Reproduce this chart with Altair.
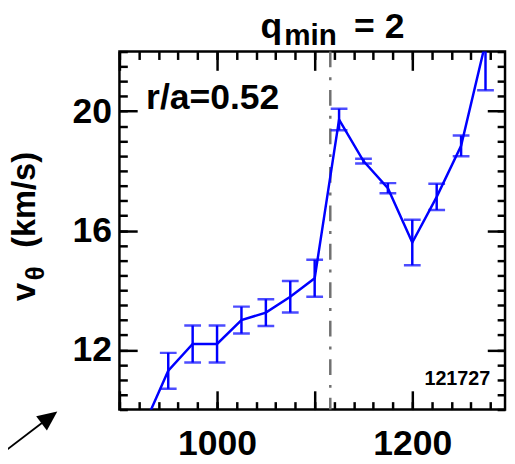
import altair as alt
import pandas as pd

# ---- data ----
x_pos = [925, 950, 975, 1000, 1025, 1050, 1075, 1100, 1125, 1150, 1175, 1200, 1225, 1250, 1275]
v_theta = [9.45, 11.3, 12.2, 12.2, 13.0, 13.25, 13.78, 14.4, 19.72, 18.33, 17.42, 15.6, 17.13, 18.84, 22.3]
v_err = [0.4, 0.6, 0.62, 0.62, 0.45, 0.45, 0.53, 0.62, 0.36, 0.08, 0.17, 0.76, 0.44, 0.35, 1.6]
q_min_x = [1116]
x_domain = [900, 1295]
y_domain = [10, 22]
x_major = [900, 1000, 1100, 1200]
x_labels = [1000, 1200]
x_minor = list(range(900, 1300, 20))
y_major = [12, 16, 20]
y_minor = [10 + 0.5 * i for i in range(25)]

df = pd.DataFrame({"x": x_pos, "v": v_theta, "err": v_err})
df["lo"] = df["v"] - df["err"]
df["hi"] = df["v"] + df["err"]
qdf = pd.DataFrame({"x": q_min_x})

W, H = 391, 363
FONT = "Liberation Sans"
BLUE = "#0000FF"

xs = alt.Scale(domain=x_domain, nice=False, zero=False)
ys = alt.Scale(domain=y_domain, nice=False, zero=False)


def ax(**kw):
    base = dict(grid=False, title=None, domain=False, tickColor="black", tickWidth=2.5)
    base.update(kw)
    return alt.Axis(**base)


def axis_layer(xaxis, yaxis):
    return alt.Chart(df).mark_point(opacity=0).encode(
        x=alt.X("x:Q", scale=xs, axis=xaxis),
        y=alt.Y("v:Q", scale=ys, axis=yaxis),
    )


lab_common = dict(labelFont=FONT, labelFontWeight="bold", labelFontSize=36, labelColor="black")

a1 = axis_layer(
    ax(orient="bottom", values=x_labels, ticks=False, tickSize=0, labelPadding=18, format="d", **lab_common),
    ax(orient="left", values=y_major, ticks=False, tickSize=0, labelPadding=8, format="d", **lab_common),
)
a2 = axis_layer(
    ax(orient="top", offset=-H, values=x_major, tickSize=19, labels=False),
    ax(orient="right", offset=-W, values=y_major, tickSize=18, labels=False),
)
a3 = axis_layer(
    ax(orient="top", offset=-H, values=x_minor, tickSize=8, labels=False),
    ax(orient="right", offset=-W, values=y_minor, tickSize=8, labels=False),
)
a4 = axis_layer(
    ax(orient="bottom", offset=-H, values=x_major, tickSize=19, labels=False),
    ax(orient="left", offset=-W, values=y_major, tickSize=18, labels=False),
)
a5 = axis_layer(
    ax(orient="bottom", offset=-H, values=x_minor, tickSize=8, labels=False),
    ax(orient="left", offset=-W, values=y_minor, tickSize=8, labels=False),
)

vline = alt.Chart(qdf).mark_rule(color="#707070", strokeWidth=2.5, strokeDash=[16, 10, 3, 10]).encode(
    x=alt.X("x:Q", scale=xs, axis=None),
    y=alt.value(0),
    y2=alt.value(H),
)

line = alt.Chart(df).mark_line(color=BLUE, strokeWidth=2.5, clip=True).encode(
    x=alt.X("x:Q", scale=xs, axis=None),
    y=alt.Y("v:Q", scale=ys, axis=None),
)
bars = alt.Chart(df).mark_rule(color=BLUE, strokeWidth=2.5, clip=True).encode(
    x=alt.X("x:Q", scale=xs, axis=None),
    y=alt.Y("lo:Q", scale=ys, axis=None),
    y2="hi:Q",
)
cap_lo = alt.Chart(df).mark_tick(color=BLUE, orient="horizontal", size=17, thickness=2.5, clip=True).encode(
    x=alt.X("x:Q", scale=xs, axis=None),
    y=alt.Y("lo:Q", scale=ys, axis=None),
)
cap_hi = alt.Chart(df).mark_tick(color=BLUE, orient="horizontal", size=17, thickness=2.5, clip=True).encode(
    x=alt.X("x:Q", scale=xs, axis=None),
    y=alt.Y("hi:Q", scale=ys, axis=None),
)


def label(text, x, y, size, align="left", angle=0, baseline="alphabetic"):
    return alt.Chart(pd.DataFrame({"t": [text]})).mark_text(
        font=FONT, fontWeight="bold", fontSize=size, color="black",
        align=align, baseline=baseline, angle=angle,
    ).encode(text="t:N", x=alt.value(x), y=alt.value(y))


texts = [
    label("q", 143, -14, 36),
    label("min", 167, -7, 30),
    label("= 2", 289, -14, 36, align="right"),
    label("r/a=0.52", 27, 58, 36),
    label("121727", 376, 338, 20, align="right"),
    label("v", -86, 253, 33, angle=270),
    label("θ", -77, 232, 26, angle=270),
    label("(km/s)", -86, 199, 33, angle=270),
]

arrow_line = alt.Chart(pd.DataFrame({"a": [0]})).mark_rule(color="black", strokeWidth=2).encode(
    x=alt.value(-121), y=alt.value(409), x2=alt.value(-66), y2=alt.value(367)
)
arrow_head = alt.Chart(pd.DataFrame({"a": [0]})).mark_point(
    shape="M0,0 L0.45,1 L-0.45,1 Z", filled=True, color="black", opacity=1, size=1600, angle=53
).encode(x=alt.value(-63), y=alt.value(365))

chart = alt.layer(
    a1, a2, a3, a4, a5, vline, line, bars, cap_lo, cap_hi, arrow_line, arrow_head, *texts
).resolve_axis(x="independent", y="independent").properties(
    width=W, height=H,
    autosize=alt.AutoSizeParams(type="none"),
    padding={"left": 113, "top": 41, "right": 2, "bottom": 49},
).configure_view(stroke="black", strokeWidth=2.5)

chart.save("out.html", embed_options={"renderer": "svg", "actions": False})
